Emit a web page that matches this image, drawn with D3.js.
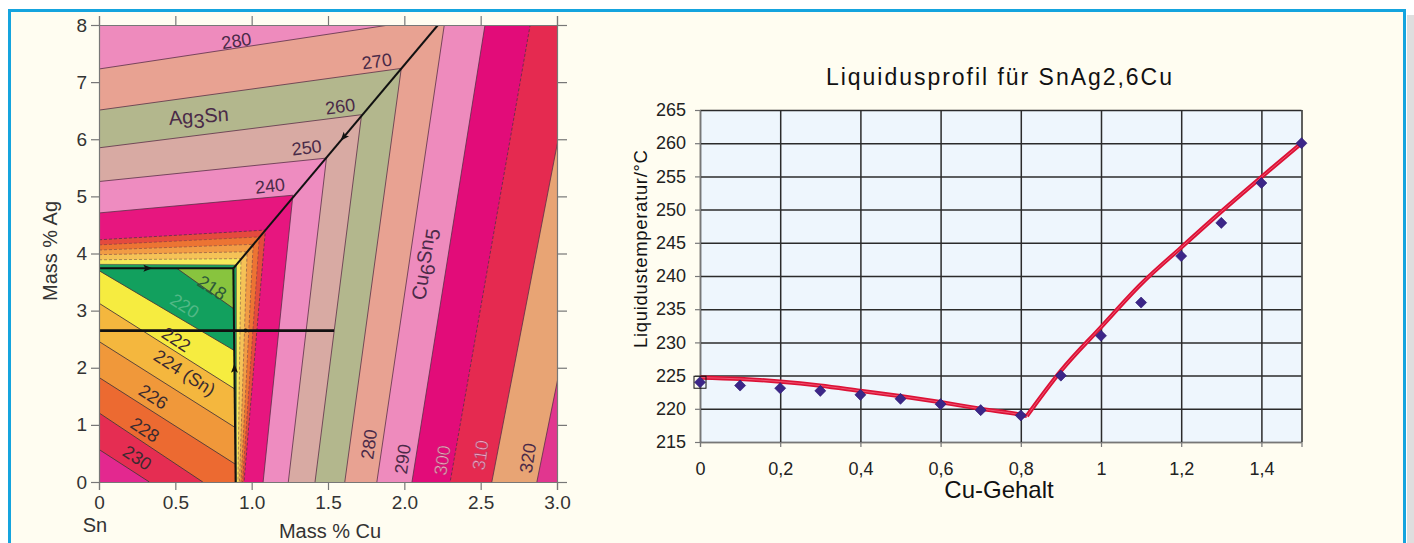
<!DOCTYPE html>
<html>
<head>
<meta charset="utf-8">
<script src="https://cdn.jsdelivr.net/npm/d3@7"></script>
<style>
  body { margin: 0; background: #fff; }
  svg { display: block; font-family: "Liberation Sans", Arial, sans-serif; }
</style>
</head>
<body>
<svg id="chart" width="1414" height="543"></svg>
<script>
// ---------- left: liquidus projection Sn-Ag-Cu, Sn corner ----------
// isotherms in the Ag3Sn / Cu6Sn5 fields, outermost first.
// each one as [Cu, Ag]: start of the Ag3Sn arm, corner on the valley, end of the Cu6Sn5 arm
const fieldTemps = [320, 310, 300, 290, 280, 270, 260, 250, 240, 230, 228, 226, 224, 222, 220];
const fieldLines = [
  [[0, 11], [3.78, 12], [2.868, 0]],
  [[0, 10], [3.37, 11], [2.573, 0]],
  [[0, 9], [2.955, 10], [2.30, 0]],
  [[0, 8.2], [2.60, 9.2], [2.05, 0]],
  [[0, 7.23], [2.27, 8.15], [1.82, 0]],
  [[0, 6.51], [1.98, 7.24], [1.61, 0]],
  [[0, 5.85], [1.72, 6.43], [1.415, 0]],
  [[0, 5.26], [1.49, 5.67], [1.24, 0]],
  [[0, 4.71], [1.27, 5.02], [1.075, 0]],
  [[0, 4.24], [1.09, 4.41], [0.95, 0]],
  [[0, 4.15], [1.05, 4.29], [0.94, 0]],
  [[0, 4.06], [1.01, 4.16], [0.93, 0]],
  [[0, 3.98], [0.97, 4.03], [0.92, 0]],
  [[0, 3.89], [0.93, 3.91], [0.91, 0]],
  [[0, 3.81], [0.90, 3.80], [0.90, 0]]
];
// isotherms in the (Sn) field, from the Sn corner towards the eutectic
const snTemps = [230, 228, 226, 224, 222, 220, 218];
const snLines = [
  [[0, 0.57], [0.33, 0]],
  [[0, 1.21], [0.68, 0]],
  [[0, 1.83], [0.90, 0.30]],
  [[0, 2.46], [0.90, 0.94]],
  [[0, 3.13], [0.90, 1.61]],
  [[0, 3.70], [0.90, 2.28]],
  [[0.51, 3.74], [0.90, 3.00]]
];
// monovariant valleys: Sn/Ag3Sn, Sn/Cu6Sn5, Ag3Sn/Cu6Sn5
const valleys = [
  [[0, 3.74], [0.88, 3.74]],
  [[0.88, 3.74], [0.895, 0]],
  [[0.88, 3.74], [2.22, 8]]
];
const snField = [[0, 0], [0, 3.74], [0.88, 3.74], [0.895, 0]];
const sectionLine = [[0, 2.65], [1.54, 2.65]];
const agTicks = [0, 1, 2, 3, 4, 5, 6, 7, 8];
const cuTicksL = [0, 0.5, 1, 1.5, 2, 2.5, 3];

// ---------- right: Liquidusprofil SnAg2,6Cu ----------
const cuContent = [0, 0.1, 0.2, 0.3, 0.4, 0.5, 0.6, 0.7, 0.8, 0.9, 1.0, 1.1, 1.2, 1.3, 1.4, 1.5];
const liquidusTemp = [224, 223.5, 223.1, 222.7, 222.1, 221.5, 220.7, 219.8, 219, 225, 231, 236, 243, 248, 254, 260];
// fitted curve, falling branch and rising branch
const fitCuLow = [0, 0.1, 0.2, 0.3, 0.4, 0.5, 0.6, 0.7, 0.8, 0.815];
const fitTempLow = [224.7, 224.5, 224.1, 223.5, 222.7, 221.9, 221.0, 220.0, 219.1, 218.9];
const fitCuHigh = [0.815, 0.9, 1.0, 1.1, 1.2, 1.3, 1.4, 1.5];
const fitTempHigh = [218.9, 225.7, 232.3, 238.8, 244.3, 249.7, 254.9, 260];
const tempTicks = [215, 220, 225, 230, 235, 240, 245, 250, 255, 260, 265];
const cuTicksR = [0, 0.2, 0.4, 0.6, 0.8, 1, 1.2, 1.4];

const svg = d3.select("#chart");

// page: cream panel in a blue frame
svg.append("rect").attr("x", 1407).attr("y", 15).attr("width", 7).attr("height", 528).attr("fill", "#dedede");
svg.append("rect").attr("x", 9).attr("y", 10).attr("width", 1396).attr("height", 540).attr("fill", "#fffdf1");
svg.append("path").attr("d", "M9.5,543V10.5H1404.5V543")
  .attr("fill", "none").attr("stroke", "#15a4de").attr("stroke-width", 3);

// ===== left panel =====
const xL = d3.scaleLinear().domain([0, 3]).range([99, 557]);
const yL = d3.scaleLinear().domain([0, 8]).range([482, 25]);
const lineL = d3.line().x(d => xL(d[0])).y(d => yL(d[1]));

const fieldColor = d3.scaleOrdinal().domain(fieldTemps).range([
  "#e8a474", "#e52a50", "#e20c79", "#ee8bbd", "#e8a292", "#b3b78d",
  "#d8aaa3", "#ee8cc0", "#e7167f", "#e44a3e", "#ec7433", "#f19c45", "#f5c257", "#f5e85a", "#1ea15c"
]);
const fieldTop = "#e1368f";
const snColor = d3.scaleOrdinal().domain(snTemps).range([
  "#e52d52", "#ec6a31", "#f0983a", "#f4b73e", "#f6ec40", "#12a05e", "#88c43e"
]);
const snTop = "#e3288f";
const dashedTemps = [300, 230, 228, 226, 224, 222];

const defs = svg.append("defs");
defs.append("clipPath").attr("id", "clipL").append("rect")
  .attr("x", xL(0)).attr("y", yL(8)).attr("width", xL(3) - xL(0)).attr("height", yL(0) - yL(8));
defs.append("clipPath").attr("id", "clipSn").append("path").attr("d", lineL(snField) + "Z");

const gMap = svg.append("g").attr("clip-path", "url(#clipL)");
gMap.append("rect").attr("x", xL(0)).attr("y", yL(8)).attr("width", xL(3) - xL(0)).attr("height", yL(0) - yL(8))
  .attr("fill", fieldTop);

// fields: paint every isotherm's low side, outermost first
gMap.selectAll("path.band").data(fieldLines).enter().append("path")
  .attr("class", "band")
  .attr("d", d => lineL([[0, 0], ...d]) + "Z")
  .attr("fill", (d, i) => fieldColor(fieldTemps[i]));
gMap.selectAll("path.iso").data(fieldLines).enter().append("path")
  .attr("class", "iso")
  .attr("d", d => lineL(d))
  .attr("fill", "none")
  .attr("stroke", "#5b3048")
  .attr("stroke-width", 0.8)
  .attr("stroke-opacity", (d, i) => fieldTemps[i] < 230 ? 0.6 : 1)
  .attr("stroke-dasharray", (d, i) => dashedTemps.includes(fieldTemps[i]) ? "3,2" : null);

// (Sn) field on top
const gSn = gMap.append("g").attr("clip-path", "url(#clipSn)");
gSn.append("path").attr("d", lineL(snField) + "Z").attr("fill", snTop);
gSn.selectAll("path.band").data(snLines).enter().append("path")
  .attr("class", "band")
  .attr("d", d => lineL([d[0], d[1], [1.5, d[1][1]], [1.5, 4], [d[0][0], 4]]) + "Z")
  .attr("fill", (d, i) => snColor(snTemps[i]));
gSn.selectAll("path.iso").data(snLines).enter().append("path")
  .attr("class", "iso")
  .attr("d", d => lineL(d))
  .attr("fill", "none")
  .attr("stroke", "#4a3a3a")
  .attr("stroke-width", 0.9);

// valleys and section line
gMap.selectAll("path.valley").data(valleys).enter().append("path")
  .attr("class", "valley")
  .attr("d", d => lineL(d))
  .attr("fill", "none").attr("stroke", "#111").attr("stroke-width", 2);
gMap.append("path").attr("d", lineL(sectionLine))
  .attr("fill", "none").attr("stroke", "#111").attr("stroke-width", 2.6);

// arrows on the valleys: [valley index, position along it, direction]
const valleyArrows = [[0, 0.36, 1], [1, 0.47, -1], [2, 0.54, -1]];
valleyArrows.forEach(([vi, t, dir]) => {
  const [a, b] = valleys[vi];
  const px = xL(a[0]) + t * (xL(b[0]) - xL(a[0]));
  const py = yL(a[1]) + t * (yL(b[1]) - yL(a[1]));
  const ang = Math.atan2(yL(b[1]) - yL(a[1]), xL(b[0]) - xL(a[0])) * 180 / Math.PI + (dir < 0 ? 180 : 0);
  gMap.append("path").attr("d", "M5,0L-4,-3.5L-2,0L-4,3.5Z")
    .attr("transform", `translate(${px},${py}) rotate(${ang})`)
    .attr("fill", "#111");
});
gMap.append("circle").attr("cx", xL(0.96)).attr("cy", yL(2.65)).attr("r", 2).attr("fill", "#111");

// isotherm labels
const fieldLabelText = ["280", "270", "260", "250", "240"];
const fieldLabelAt = [[0.9, 7.72], [1.82, 7.36], [1.58, 6.57], [1.36, 5.85], [1.12, 5.18]];
const fieldLabelAngle = [-9, -8, -8, -7, -6];
const cuLabelText = ["280", "290", "300", "310", "320"];
const cuLabelAt = [[1.77, 0.66], [1.99, 0.40], [2.25, 0.38], [2.50, 0.47], [2.81, 0.42]];
const snLabelText = ["218", "220", "222", "224 (Sn)", "226", "228", "230"];
const snLabelAt = [[0.74, 3.40], [0.56, 3.08], [0.505, 2.49], [0.56, 1.91], [0.355, 1.49], [0.30, 0.91], [0.25, 0.42]];

const labelG = gMap.append("g").attr("font-size", 18).attr("text-anchor", "middle").attr("dominant-baseline", "central");
fieldLabelText.forEach((t, i) => {
  labelG.append("text").text(t).attr("fill", "#4a2a48")
    .attr("transform", `translate(${xL(fieldLabelAt[i][0])},${yL(fieldLabelAt[i][1])}) rotate(${fieldLabelAngle[i]})`);
});
cuLabelText.forEach((t, i) => {
  labelG.append("text").text(t)
    .attr("fill", (t === "300" || t === "310") ? "#f2a2c0" : "#4a2a48")
    .attr("stroke", (t === "300" || t === "310") ? "#9a3a60" : null)
    .attr("stroke-width", 0.4)
    .attr("transform", `translate(${xL(cuLabelAt[i][0])},${yL(cuLabelAt[i][1])}) rotate(-82)`);
});
snLabelText.forEach((t, i) => {
  labelG.append("text").text(t)
    .attr("fill", t === "220" ? "#52b886" : (t === "218" ? "#2d5a3a" : "#3a2a30"))
    .attr("transform", `translate(${xL(snLabelAt[i][0])},${yL(snLabelAt[i][1])}) rotate(33)`);
});

// phase field names
const ag3sn = gMap.append("text").attr("font-size", 20).attr("fill", "#4a2a48")
  .attr("transform", `translate(${xL(0.46)},${yL(6.25)}) rotate(-4)`);
ag3sn.append("tspan").text("Ag");
ag3sn.append("tspan").text("3").attr("dy", 5);
ag3sn.append("tspan").text("Sn").attr("dy", -5);
const cu6sn5 = gMap.append("text").attr("font-size", 20).attr("fill", "#4a2a48").attr("text-anchor", "middle")
  .attr("transform", `translate(${xL(2.17)},${yL(3.8)}) rotate(-82)`);
cu6sn5.append("tspan").text("Cu");
cu6sn5.append("tspan").text("6").attr("dy", 5);
cu6sn5.append("tspan").text("Sn").attr("dy", -5);
cu6sn5.append("tspan").text("5").attr("dy", 5);

// axes, left panel
const styleAxis = (g, size) => {
  g.selectAll(".domain").attr("stroke", "#777").attr("stroke-width", 1.2);
  g.selectAll(".tick line").attr("stroke", "#777").attr("stroke-width", 1.2);
  g.selectAll(".tick text").attr("fill", "#333").attr("font-size", size)
    .attr("font-family", "'Liberation Sans', Arial, sans-serif");
};
svg.append("g").attr("transform", `translate(${xL(0)},0)`)
  .call(d3.axisLeft(yL).tickValues(agTicks).tickSize(8).tickPadding(4).tickFormat(d3.format("d")))
  .call(g => styleAxis(g, 19));
svg.append("g").attr("transform", `translate(0,${yL(0)})`)
  .call(d3.axisBottom(xL).tickValues(cuTicksL).tickSize(8).tickPadding(6)
    .tickFormat(d => d === 0 ? "0" : d3.format(".1f")(d)))
  .call(g => styleAxis(g, 19));
svg.append("g").attr("transform", `translate(0,${yL(8)})`)
  .call(d3.axisTop(xL).tickValues(cuTicksL).tickSize(9).tickFormat(""))
  .call(g => styleAxis(g, 19));
svg.append("g").attr("transform", `translate(${xL(3)},0)`)
  .call(d3.axisRight(yL).tickValues(agTicks).tickSize(10).tickFormat(""))
  .call(g => styleAxis(g, 19));

svg.append("text").text("Mass % Ag").attr("font-size", 20).attr("fill", "#333").attr("text-anchor", "middle")
  .attr("transform", `translate(57,251) rotate(-90)`);
svg.append("text").text("Mass % Cu").attr("font-size", 20).attr("fill", "#333").attr("text-anchor", "middle")
  .attr("x", 330).attr("y", 538);
svg.append("text").text("Sn").attr("font-size", 20).attr("fill", "#333").attr("text-anchor", "middle")
  .attr("x", 95).attr("y", 532);

// ===== right panel =====
const xR = d3.scaleLinear().domain([0, 1.5]).range([700, 1301.5]);
const yR = d3.scaleLinear().domain([215, 265]).range([442, 110]);
const comma = d => String(d).replace(".", ",");

svg.append("rect").attr("x", xR(0)).attr("y", yR(265)).attr("width", xR(1.5) - xR(0)).attr("height", yR(215) - yR(265))
  .attr("fill", "#eef6fd");

// grid
svg.append("g").attr("transform", `translate(${xR(0)},0)`)
  .call(d3.axisLeft(yR).tickValues(tempTicks).tickSize(-(xR(1.5) - xR(0))).tickFormat(""))
  .call(g => g.select(".domain").remove())
  .call(g => g.selectAll(".tick line").attr("stroke", "#2b2b2b").attr("stroke-width", 1.5));
svg.append("g").attr("transform", `translate(0,${yR(215)})`)
  .call(d3.axisBottom(xR).tickValues([...cuTicksR, 1.5]).tickSize(-(yR(215) - yR(265))).tickFormat(""))
  .call(g => g.select(".domain").remove())
  .call(g => g.selectAll(".tick line").attr("stroke", "#2b2b2b").attr("stroke-width", 1.5));

// axes with labels
svg.append("g").attr("transform", `translate(${xR(0)},0)`)
  .call(d3.axisLeft(yR).tickValues(tempTicks).tickSize(5).tickPadding(9))
  .call(g => styleAxis(g, 18))
  .call(g => g.selectAll(".tick text").attr("fill", "#222"));
svg.append("g").attr("transform", `translate(0,${yR(215)})`)
  .call(d3.axisBottom(xR).tickValues(cuTicksR).tickSize(5).tickPadding(15).tickFormat(comma))
  .call(g => styleAxis(g, 18))
  .call(g => g.selectAll(".tick text").attr("fill", "#222"));

// fitted liquidus curve, two smooth branches meeting at the eutectic kink
const fitLine = d3.line().x(d => xR(d[0])).y(d => yR(d[1])).curve(d3.curveMonotoneX);
const fitBranches = [
  fitCuLow.map((c, i) => [c, fitTempLow[i]]),
  fitCuHigh.map((c, i) => [c, fitTempHigh[i]])
];
const fitPath = fitBranches.map(b => fitLine(b)).join("");
svg.append("path").attr("d", fitPath).attr("fill", "none")
  .attr("stroke", "#dc1236").attr("stroke-width", 4.2).attr("stroke-linejoin", "round");
svg.append("path").attr("d", fitPath).attr("fill", "none")
  .attr("stroke", "#f05a78").attr("stroke-width", 0.9);

// measured points
svg.selectAll("path.pt").data(cuContent).enter().append("path")
  .attr("class", "pt")
  .attr("d", d3.symbol(d3.symbolDiamond2, 78))
  .attr("transform", (d, i) => `translate(${xR(d)},${yR(liquidusTemp[i])})`)
  .attr("fill", "#3c2688").attr("stroke", "#2a1870").attr("stroke-width", 0.6);
svg.append("rect")
  .attr("x", xR(cuContent[0]) - 6).attr("y", yR(liquidusTemp[0]) - 6).attr("width", 12).attr("height", 12)
  .attr("fill", "none").attr("stroke", "#111").attr("stroke-width", 1);

// titles
svg.append("text").text("Liquidusprofil für SnAg2,6Cu")
  .attr("x", 999).attr("y", 85).attr("text-anchor", "middle")
  .attr("font-size", 23).attr("fill", "#111")
  .attr("textLength", 346).attr("lengthAdjust", "spacing");
svg.append("text").text("Liquidustemperatur/°C")
  .attr("font-size", 18.5).attr("fill", "#111").attr("text-anchor", "middle")
  .attr("textLength", 198).attr("lengthAdjust", "spacing")
  .attr("transform", "translate(647,249) rotate(-90)");
svg.append("text").text("Cu-Gehalt")
  .attr("x", 999).attr("y", 498).attr("text-anchor", "middle")
  .attr("font-size", 24).attr("fill", "#111");
</script>
</body>
</html>
